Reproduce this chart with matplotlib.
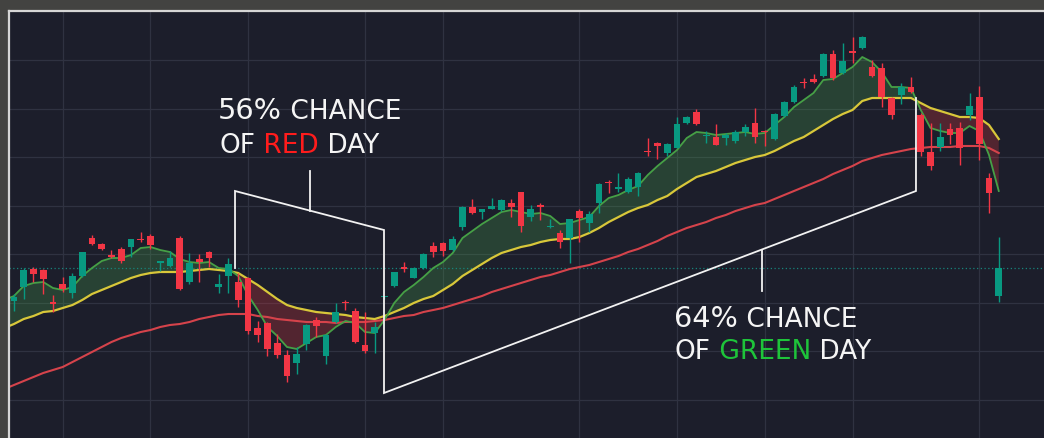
import numpy as np
import matplotlib.pyplot as plt

# daily candles (price units), one per session
opens = [109.9, 111.3, 113.1, 113.0, 109.8, 111.6, 110.7, 112.4, 116.2, 115.6,
         114.5, 115.1, 115.3, 116.1, 116.4, 113.7, 113.4, 116.2, 111.8, 114.1,
         114.8, 111.3, 112.4, 111.8, 112.2, 107.2, 107.7, 105.7, 104.5, 103.7,
         105.6, 108.0, 104.4, 107.8, 109.8, 108.9, 105.5, 106.7, 110.25, 111.4,
         113.3, 112.2, 113.2, 115.4, 115.7, 115.0, 117.3, 119.3, 118.8, 119.1,
         119.0, 119.7, 120.8, 118.3, 119.5, 117.3, 116.7, 116.2, 118.9, 117.7,
         119.7, 121.8, 121.1, 120.8, 121.3, 124.9, 125.7, 124.7, 125.2, 127.7,
         128.8, 126.4, 126.3, 126.2, 125.9, 126.8, 127.7, 126.9, 126.1, 128.4,
         129.8, 131.8, 132.1, 132.4, 134.6, 132.7, 134.9, 135.2, 133.3, 133.2,
         130.2, 130.5, 131.3, 128.5, 124.8, 125.3, 127.1, 127.2, 128.5, 130.3,
         122.2, 110.4]
highs = [110.6, 113.2, 113.3, 113.1, 110.5, 112.3, 112.7, 114.8, 116.5, 115.7,
         115.0, 115.3, 116.1, 116.8, 116.6, 113.9, 114.9, 116.4, 114.7, 114.6,
         114.9, 112.6, 114.2, 112.7, 112.3, 107.9, 107.8, 106.6, 105.0, 105.3,
         107.6, 108.3, 106.6, 109.7, 110.0, 109.2, 108.8, 107.8, 110.4, 112.8,
         113.8, 113.3, 114.7, 115.8, 115.8, 116.4, 119.4, 120.1, 119.1, 120.2,
         120.1, 120.1, 120.8, 119.5, 119.7, 118.1, 117.0, 118.1, 119.1, 118.9,
         121.7, 122.0, 122.7, 122.3, 122.8, 126.2, 125.8, 125.7, 128.3, 128.4,
         129.1, 126.9, 127.6, 126.7, 127.0, 127.6, 129.2, 127.0, 128.7, 129.9,
         131.5, 132.2, 132.6, 134.7, 135.0, 135.7, 136.3, 136.4, 134.0, 133.7,
         130.3, 131.7, 132.3, 128.7, 127.7, 127.7, 127.7, 127.8, 130.7, 131.4,
         122.7, 116.3]
lows = [108.9, 110.1, 111.8, 110.6, 108.8, 110.8, 110.2, 112.3, 115.5, 115.0,
        114.2, 113.7, 114.3, 115.8, 115.1, 112.9, 113.3, 111.0, 111.6, 111.8,
        113.3, 110.7, 110.7, 109.3, 106.6, 105.8, 104.4, 104.2, 101.8, 102.6,
        105.0, 106.3, 103.6, 107.7, 109.0, 105.7, 104.7, 104.7, 110.1, 111.3,
        112.8, 112.2, 113.1, 114.3, 114.4, 114.9, 117.0, 118.6, 118.1, 119.1,
        118.9, 118.3, 116.8, 117.9, 118.0, 117.2, 115.2, 113.7, 115.8, 116.8,
        118.7, 120.7, 120.8, 120.7, 120.4, 124.4, 124.1, 124.4, 125.2, 127.6,
        127.5, 125.7, 125.5, 125.5, 125.7, 126.4, 125.7, 125.4, 126.0, 128.3,
        129.7, 131.2, 131.7, 132.3, 132.0, 132.6, 133.7, 135.1, 132.3, 129.3,
        128.1, 129.6, 130.7, 124.4, 123.0, 124.9, 125.6, 123.5, 128.0, 124.0,
        118.7, 109.8]
closes = [110.3, 113.0, 112.6, 112.1, 109.6, 111.1, 112.4, 114.8, 115.6, 115.1,
          114.3, 113.9, 116.1, 116.0, 115.5, 113.9, 114.2, 111.1, 113.7, 113.8,
          114.2, 111.6, 113.6, 110.0, 106.9, 106.5, 105.1, 104.5, 102.4, 104.6,
          107.5, 107.4, 106.5, 108.8, 109.7, 105.8, 104.9, 107.3, 110.35, 112.8,
          113.1, 113.2, 114.6, 114.8, 114.9, 116.1, 119.3, 118.7, 119.1, 119.4,
          120.0, 119.3, 117.4, 119.1, 119.3, 117.4, 115.8, 118.1, 118.2, 118.6,
          121.6, 121.7, 121.3, 122.1, 122.7, 124.8, 125.4, 125.6, 127.6, 128.3,
          127.6, 126.5, 125.5, 126.5, 126.8, 127.3, 126.3, 126.8, 128.6, 129.8,
          131.3, 131.7, 131.8, 134.6, 132.2, 133.9, 134.7, 136.3, 132.4, 130.3,
          128.5, 131.3, 130.8, 124.8, 123.4, 126.3, 126.5, 125.2, 129.4, 125.6,
          120.7, 113.2]

# moving averages (first value is the session before the window)
ma_fast = [110.0,
           110.4, 111.4, 111.7, 111.8, 111.2, 111.0, 111.3, 112.4, 113.2, 113.9,
           114.2, 114.2, 114.5, 115.2, 115.3, 115.0, 114.8, 114.1, 113.8, 113.7,
           113.8, 113.2, 113.1, 112.4, 110.5, 109.0, 107.3, 106.4, 105.3, 105.1,
           105.7, 106.3, 106.5, 107.3, 107.9, 107.7, 106.8, 106.7, 108.0, 109.7,
           110.8, 111.5, 112.3, 113.2, 113.8, 114.7, 116.2, 116.9, 117.6, 118.2,
           118.8, 119.0, 118.8, 118.6, 118.7, 118.4, 117.6, 117.7, 118.0, 118.3,
           119.4, 120.2, 120.5, 121.0, 121.4, 122.5, 123.4, 124.2, 125.0, 126.2,
           126.8, 126.7, 126.5, 126.6, 126.7, 126.8, 126.6, 126.7, 127.5, 128.3,
           129.3, 130.0, 130.7, 132.0, 132.1, 132.7, 133.3, 134.3, 133.8, 132.8,
           131.3, 131.3, 131.2, 129.0, 127.2, 126.9, 126.7, 126.7, 127.4, 126.9,
           124.5, 120.9]
ma_mid = [107.2,
          107.6, 108.1, 108.4, 108.8, 108.9, 109.2, 109.5, 110.0, 110.6, 111.0,
          111.4, 111.8, 112.2, 112.5, 112.7, 112.8, 112.8, 112.8, 112.9, 113.0,
          113.1, 113.0, 112.9, 112.7, 112.1, 111.5, 110.8, 110.1, 109.5, 109.2,
          109.0, 108.8, 108.7, 108.6, 108.5, 108.3, 108.2, 108.1, 108.4, 108.8,
          109.2, 109.7, 110.1, 110.4, 111.0, 111.6, 112.4, 113.0, 113.6, 114.2,
          114.7, 115.0, 115.3, 115.5, 115.8, 116.0, 116.1, 116.1, 116.3, 116.7,
          117.2, 117.8, 118.3, 118.8, 119.2, 119.5, 120.0, 120.4, 121.1, 121.7,
          122.3, 122.6, 122.9, 123.3, 123.7, 124.0, 124.3, 124.5, 124.9, 125.4,
          125.9, 126.3, 126.9, 127.5, 128.1, 128.6, 129.0, 129.9, 130.2, 130.2,
          130.2, 130.2, 130.2, 129.7, 129.2, 128.9, 128.6, 128.3, 128.3, 128.2,
          127.5, 126.1]
ma_slow = [101.1,
           101.5, 101.9, 102.3, 102.7, 103.0, 103.3, 103.8, 104.3, 104.8, 105.3,
           105.8, 106.2, 106.5, 106.8, 107.0, 107.3, 107.5, 107.6, 107.8, 108.1,
           108.3, 108.5, 108.6, 108.6, 108.6, 108.4, 108.3, 108.1, 108.0, 107.9,
           107.8, 107.8, 107.8, 107.7, 107.8, 107.8, 107.8, 107.9, 108.0, 108.2,
           108.4, 108.5, 108.8, 109.0, 109.2, 109.5, 109.8, 110.1, 110.4, 110.8,
           111.1, 111.4, 111.7, 112.0, 112.3, 112.5, 112.8, 113.1, 113.3, 113.5,
           113.8, 114.1, 114.4, 114.8, 115.1, 115.5, 115.9, 116.4, 116.8, 117.2,
           117.5, 117.8, 118.2, 118.5, 118.9, 119.2, 119.5, 119.7, 120.1, 120.5,
           120.9, 121.3, 121.7, 122.1, 122.6, 123.0, 123.4, 123.9, 124.2, 124.5,
           124.7, 124.9, 125.1, 125.2, 125.3, 125.3, 125.3, 125.4, 125.4, 125.4,
           125.2, 124.7]

month_starts = [5, 14, 24, 36, 44, 58, 68, 77, 86, 99]
price_grid = [100.0, 104.9, 109.7, 114.6, 119.4, 124.3, 129.1, 134.0]

up_col = '#089981'
down_col = '#f23645'

fig = plt.figure(figsize=(10.44, 4.38), dpi=100, facecolor='#434341')
ax = fig.add_axes([9 / 1044, 0, 1035 / 1044, 427 / 438])
ax.set_facecolor('#1c1e2b')
ax.set_xlim(-0.51, 105.64)
ax.set_ylim(96.2, 138.9)

ax.set_xticks(month_starts)
ax.set_yticks(price_grid)
ax.grid(True, color='#2f3241', lw=0.9, zorder=0)
ax.set_axisbelow(True)
ax.tick_params(length=0, labelbottom=False, labelleft=False)
for side in ['right', 'bottom']:
    ax.spines[side].set_visible(False)
for side in ['left', 'top']:
    ax.spines[side].set_color('#d6d6d6')
    ax.spines[side].set_linewidth(1.6)

o = np.array(opens)
h = np.array(highs)
l = np.array(lows)
c = np.array(closes)
x = np.arange(len(o))
mx = np.arange(-1, len(o))
fast = np.array(ma_fast)
mid = np.array(ma_mid)
slow = np.array(ma_slow)

# cloud between fast and mid average
ax.fill_between(mx, fast, mid, where=fast >= mid, interpolate=True,
                color='#4caf50', alpha=0.25, lw=0, zorder=1)
ax.fill_between(mx, fast, mid, where=fast < mid, interpolate=True,
                color='#e53940', alpha=0.27, lw=0, zorder=1)

# last price line
ax.axhline(c[-1], color='#17857b', lw=0.9, ls=(0, (1, 2)), zorder=1.5)

ax.plot(mx, slow, color='#d5434b', lw=1.5, zorder=2)
ax.plot(mx, mid, color='#d8c73a', lw=1.6, zorder=2.1)
ax.plot(mx, fast, color='#46a046', lw=1.3, zorder=2.2)

cols = np.where(c >= o, up_col, down_col)
ax.vlines(x, l, h, colors=cols, lw=1.0, zorder=3)
body_lo = np.minimum(o, c)
body_h = np.maximum(np.abs(c - o), 0.12)
ax.bar(x, body_h, bottom=body_lo, width=0.68, color=cols, lw=0, zorder=4)

# brackets
line_kw = dict(color='#f2f2f2', lw=1.3, zorder=6, solid_joinstyle='miter')
ax.plot([22.67, 22.67, 37.95, 37.95, 92.51, 92.51],
        [113.2, 120.9, 117.0, 100.7, 120.9, 130.2], **line_kw)
ax.plot([30.36, 30.36], [118.95, 122.9], **line_kw)
ax.plot([76.72, 76.72], [115.05, 110.9], **line_kw)


def rich_text(x0, y0, parts):
    t = None
    for s, size, color in parts:
        if t is None:
            t = ax.text(x0, y0, s, fontsize=size, color=color, ha='left',
                        va='baseline', zorder=7)
        else:
            t = ax.annotate(s, xy=(1, 0), xycoords=t, fontsize=size,
                            color=color, ha='left', va='bottom', zorder=7)


white = '#f5f5f5'
big, small = 20.7, 19
rich_text(20.92, 128.1, [('56%', big, white), (' CHANCE', small, white)])
rich_text(21.03, 124.7, [('OF', small, white), (' RED', small, '#ff1c1c'),
                         (' DAY', small, white)])
rich_text(67.69, 107.3, [('64%', big, white), (' CHANCE', small, white)])
rich_text(67.79, 104.1, [('OF', small, white), (' GREEN', small, '#1ec43a'),
                         (' DAY', small, white)])

fig.savefig('out.png', dpi=100, facecolor=fig.get_facecolor())
